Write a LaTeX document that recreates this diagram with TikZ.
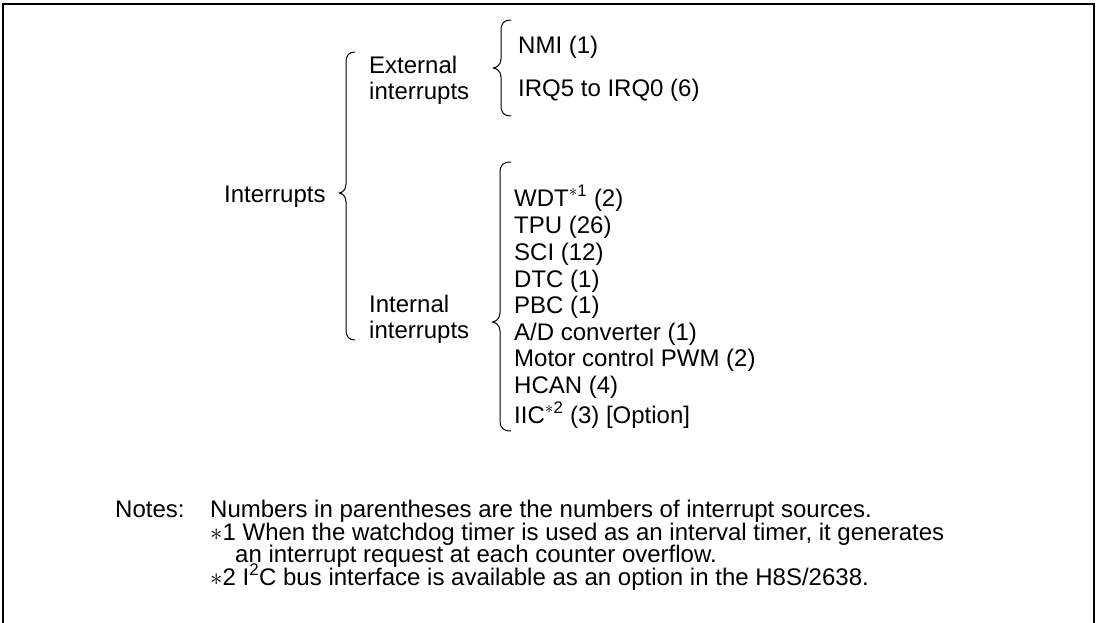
\documentclass[tikz,border=0pt]{standalone}
\usepackage{fontspec}
\setmainfont{Liberation Sans}
\newcommand{\starsup}[1]{\textsuperscript{\ensuremath{\ast}#1}}
\begin{document}
\begin{tikzpicture}[x=1pt,y=-1pt,
  txt/.style={anchor=base west,inner sep=0pt,font=\fontsize{24}{28}\selectfont},
  brace/.style={line width=1pt,line join=round},
  frame/.style={line width=1.8pt}]
\useasboundingbox (0,0) rectangle (1098,623);
\draw[frame] (3,623) -- (3,4) -- (1094,4) -- (1094,623);
% braces: #1 xv, #2 xt, #3 xe, #4 y1, #5 ym, #6 y2
\newcommand{\bracepath}[6]{%
  \draw[brace] (#3,#4) .. controls (#1+3,#4) and (#1,#4+3) .. (#1,#4+11)
    -- (#1,#5-9) .. controls (#1,#5-3) and (#2+3,#5) .. (#2,#5)
    .. controls (#2+3,#5) and (#1,#5+3) .. (#1,#5+9)
    -- (#1,#6-11) .. controls (#1,#6-3) and (#1+3,#6) .. (#3,#6);}
\bracepath{346}{339}{355}{52}{193}{340}
\bracepath{501}{493}{511}{20}{68}{116}
\bracepath{500}{492}{511}{162}{322}{431}
% left
\node[txt] (intr) at (224,202) {Interrupts};
\node[txt] (ext1) at (369,74) {External};
\node[txt] (ext2) at (369,100) {interrupts};
\node[txt] (int1) at (369,312) {Internal};
\node[txt] (int2) at (369,338) {interrupts};
% external
\node[txt] (nmi) at (518,54) {NMI (1)};
\node[txt] (irq) at (518,97) {IRQ5 to IRQ0 (6)};
% internal
\node[txt] (wdt) at (514,206) {WDT\starsup{1} (2)};
\node[txt] (tpu) at (514,233) {TPU (26)};
\node[txt] (sci) at (514,260) {SCI (12)};
\node[txt] (dtc) at (514,287) {DTC (1)};
\node[txt] (pbc) at (514,313) {PBC (1)};
\node[txt] (adc) at (514,340) {A/D converter (1)};
\node[txt] (pwm) at (514,366) {Motor control PWM (2)};
\node[txt] (hcan) at (514,393) {HCAN (4)};
\node[txt] (iic) at (514,423) {IIC\starsup{2} (3) [Option]};
% notes
\node[txt] (notes) at (115,517) {Notes:};
\node[txt] (n0) at (210,517) {Numbers in parentheses are the numbers of interrupt sources.};
\node[txt] (n1) at (210,540) {$\ast$1 When the watchdog timer is used as an interval timer, it generates};
\node[txt] (n1b) at (235,562) {an interrupt request at each counter overflow.};
\node[txt] (n2) at (210,585) {$\ast$2 I\textsuperscript{2}C bus interface is available as an option in the H8S/2638.};
\end{tikzpicture}
\end{document}
